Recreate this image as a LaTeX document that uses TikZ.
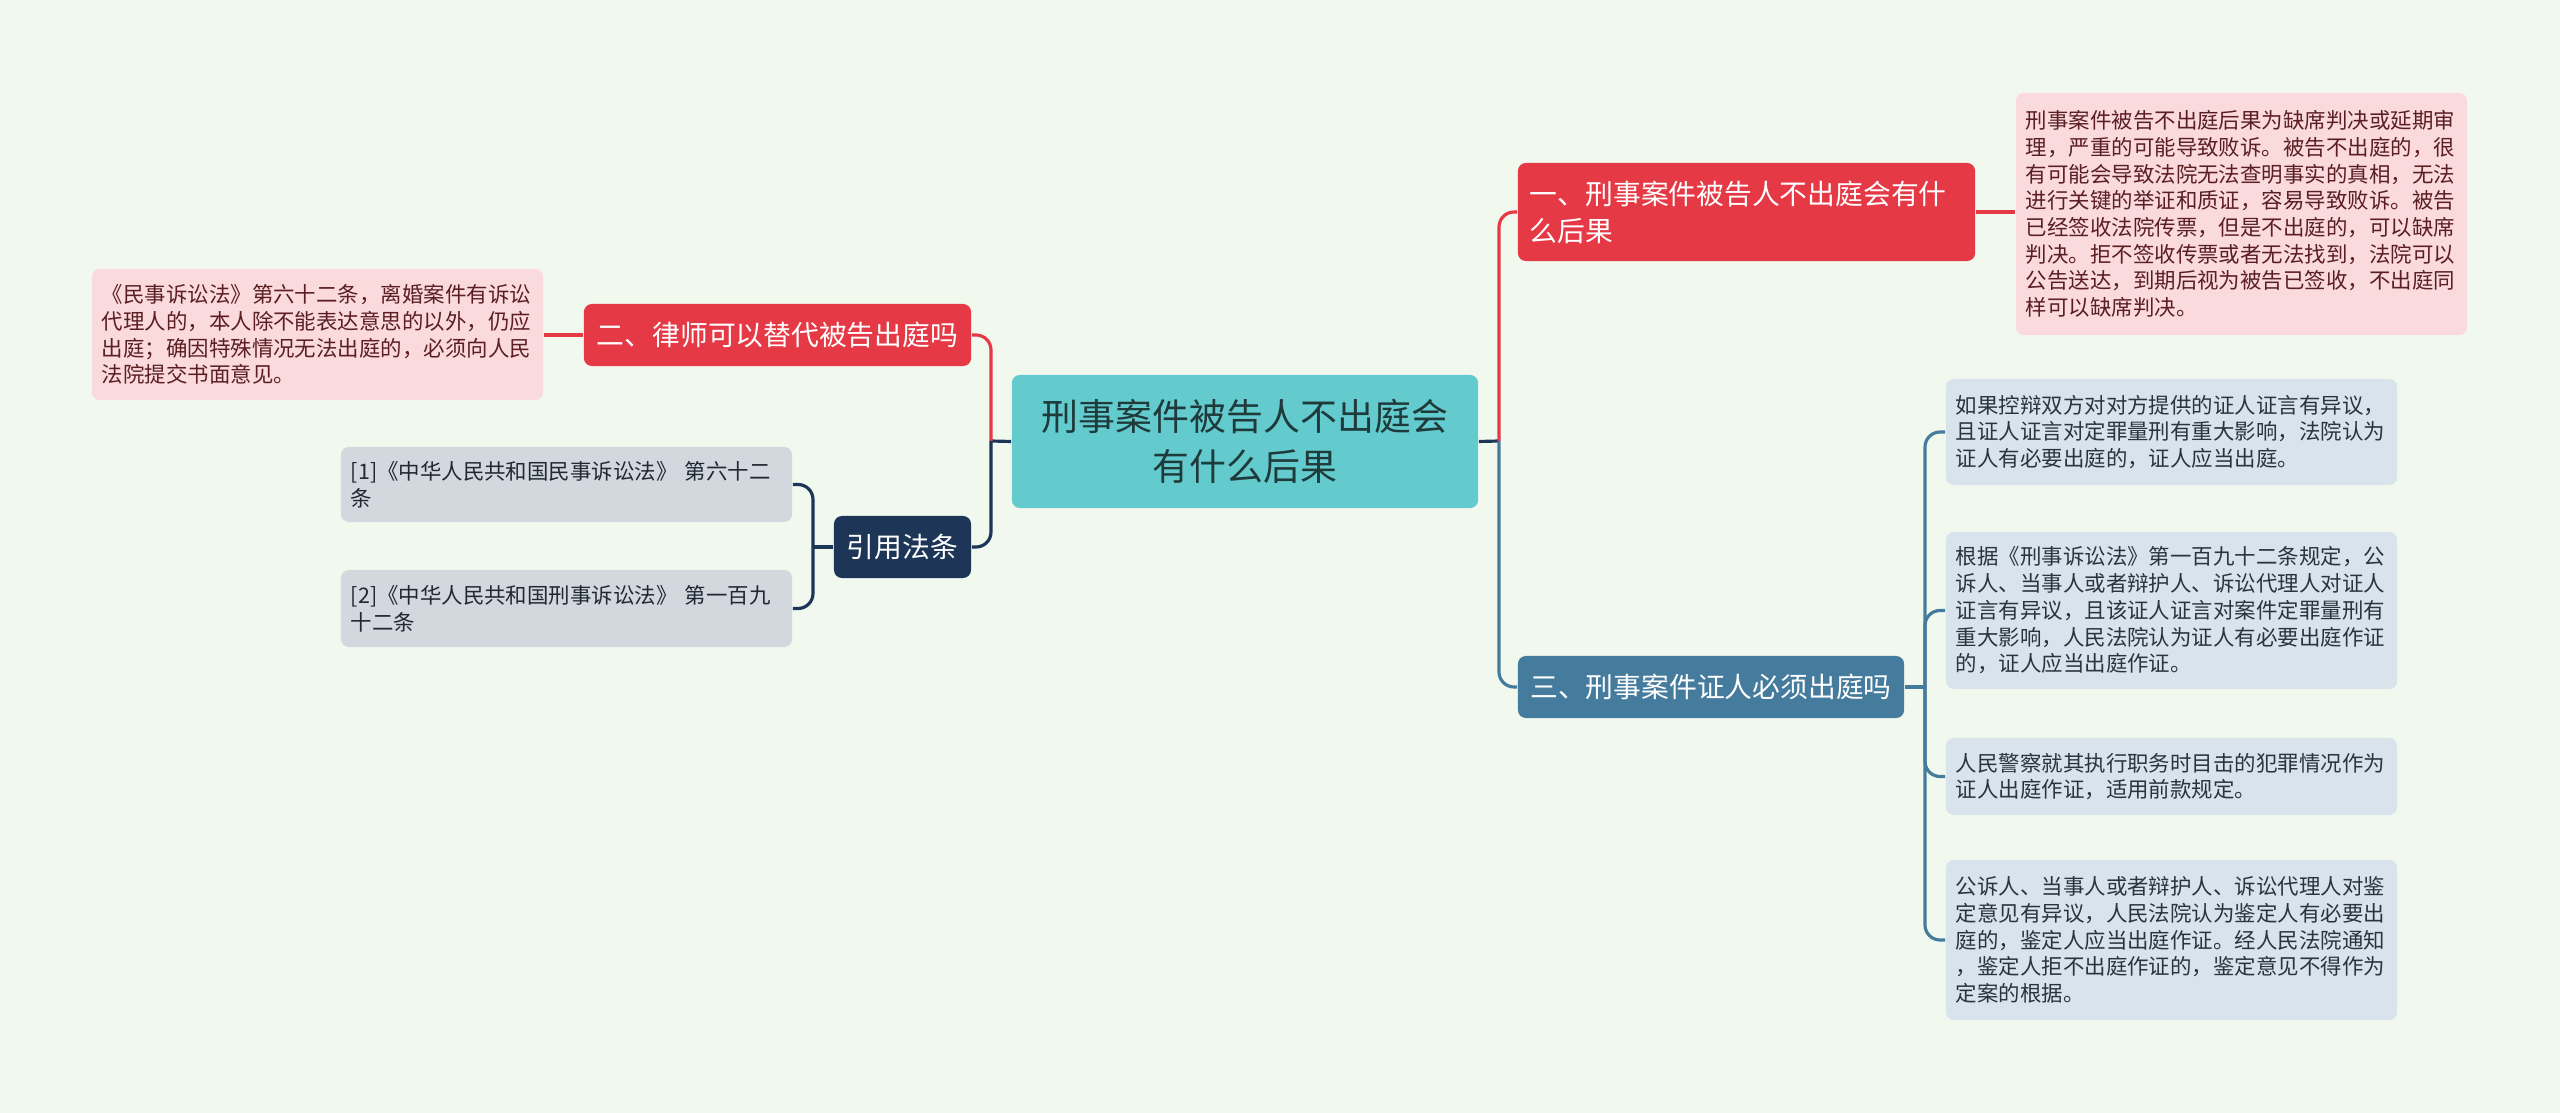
\documentclass[tikz,border=0pt]{standalone}
\usepackage{fontspec}
\setmainfont{Noto Sans CJK SC}
\definecolor{bgcol}{HTML}{F1F9EF}
\definecolor{topicfill}{HTML}{63CBCD}
\definecolor{topictext}{HTML}{1F3A3B}
\definecolor{redcol}{HTML}{E63946}
\definecolor{bluecol}{HTML}{457B9D}
\definecolor{navycol}{HTML}{1D3557}
\definecolor{pinkfill}{HTML}{FADADD}
\definecolor{pinktext}{HTML}{5A1E23}
\definecolor{bluefill}{HTML}{D9E3EB}
\definecolor{bluetext}{HTML}{27353F}
\definecolor{grayfill}{HTML}{D3D8DF}
\definecolor{graytext}{HTML}{1F2833}
\begin{document}
\begin{tikzpicture}[x=0.01cm,y=-0.01cm,
  topic/.style={fill=topicfill,text=topictext,rounded corners=0.08cm,inner sep=0pt,minimum width=4.66cm,minimum height=1.33cm,align=center,font=\fontsize{10.5pt}{14.2pt}\selectfont},
  branch/.style={rounded corners=0.08cm,text=white,inner xsep=0.12cm,inner ysep=0pt,minimum height=0.62cm,font=\fontsize{7.9pt}{10.5pt}\selectfont},
  leaf/.style={rounded corners=0.08cm,inner xsep=0.1cm,inner ysep=0pt,text width=4.31cm,align=left,font=\fontsize{6.1pt}{7.6pt}\selectfont},
  pinkleaf/.style={leaf,fill=pinkfill,text=pinktext},
  blueleaf/.style={leaf,fill=bluefill,text=bluetext},
  grayleaf/.style={leaf,fill=grayfill,text=graytext},
  link/.style={line width=0.9pt,rounded corners=0.15cm}]
\fill[bgcol] (0,0) rectangle (2560,1113);
\useasboundingbox (0,0) rectangle (2560,1113);

\node[topic] (root) at (1245,441.5) {刑事案件被告人不出庭会\\有什么后果};

\node[branch,fill=redcol,text width=4.33cm,align=left,minimum height=0.98cm] (n1) at (1746.5,212) {一、刑事案件被告人不出庭会有什\\么后果};
\node[branch,fill=bluecol,minimum width=3.86cm] (n3) at (1711,687) {三、刑事案件证人必须出庭吗};
\node[branch,fill=redcol,minimum width=3.87cm] (n2) at (777.5,335) {二、律师可以替代被告出庭吗};
\node[branch,fill=navycol,minimum width=1.37cm] (n4) at (902.5,547) {引用法条};

\node[pinkleaf,minimum height=2.42cm] (a1) at (2241.5,214) {刑事案件被告不出庭后果为缺席判决或延期审\\理，严重的可能导致败诉。被告不出庭的，很\\有可能会导致法院无法查明事实的真相，无法\\进行关键的举证和质证，容易导致败诉。被告\\已经签收法院传票，但是不出庭的，可以缺席\\判决。拒不签收传票或者无法找到，法院可以\\公告送达，到期后视为被告已签收，不出庭同\\样可以缺席判决。};

\node[blueleaf,minimum height=1.06cm] (b1) at (2171.5,432) {如果控辩双方对对方提供的证人证言有异议，\\且证人证言对定罪量刑有重大影响，法院认为\\证人有必要出庭的，证人应当出庭。};
\node[blueleaf,minimum height=1.57cm] (b2) at (2171.5,610.5) {根据《刑事诉讼法》第一百九十二条规定，公\\诉人、当事人或者辩护人、诉讼代理人对证人\\证言有异议，且该证人证言对案件定罪量刑有\\重大影响，人民法院认为证人有必要出庭作证\\的，证人应当出庭作证。};
\node[blueleaf,minimum height=0.77cm] (b3) at (2171.5,776.5) {人民警察就其执行职务时目击的犯罪情况作为\\证人出庭作证，适用前款规定。};
\node[blueleaf,minimum height=1.60cm] (b4) at (2171.5,940) {公诉人、当事人或者辩护人、诉讼代理人对鉴\\定意见有异议，人民法院认为鉴定人有必要出\\庭的，鉴定人应当出庭作证。经人民法院通知\\，鉴定人拒不出庭作证的，鉴定意见不得作为\\定案的根据。};

\node[pinkleaf,minimum height=1.31cm] (c1) at (317.5,334.5) {《民事诉讼法》第六十二条，离婚案件有诉讼\\代理人的，本人除不能表达意思的以外，仍应\\出庭；确因特殊情况无法出庭的，必须向人民\\法院提交书面意见。};

\node[grayleaf,minimum height=0.75cm] (r1) at (566.5,484.5) {[1]《中华人民共和国民事诉讼法》~第六十二\\条};
\node[grayleaf,minimum height=0.77cm] (r2) at (566.5,608.5) {[2]《中华人民共和国刑事诉讼法》~第一百九\\十二条};

\coordinate (rj) at (1499,441);
\coordinate (lj) at (991,441);
\coordinate (sj) at (1925,687);
\coordinate (fj) at (813,547);

\draw[link,navycol] (root.east) -- (rj);
\draw[link,navycol] (root.west) -- (lj);
\draw[link,redcol] (rj) |- (n1.west);
\draw[link,bluecol] (rj) |- (n3.west);
\draw[link,redcol] (lj) |- (n2.east);
\draw[link,navycol] (lj) |- (n4.east);
\draw[link,redcol] (n1.east) -- (n1.east -| a1.west);
\draw[link,redcol] (n2.west) -- (n2.west -| c1.east);
\draw[link,bluecol] (n3.east) -- (sj);
\foreach \b in {b1,b2,b3,b4}
  \draw[link,bluecol] (sj) |- (\b.west);
\draw[link,navycol] (n4.west) -- (fj);
\foreach \r in {r1,r2}
  \draw[link,navycol] (fj) |- (\r.east);
\end{tikzpicture}
\end{document}
